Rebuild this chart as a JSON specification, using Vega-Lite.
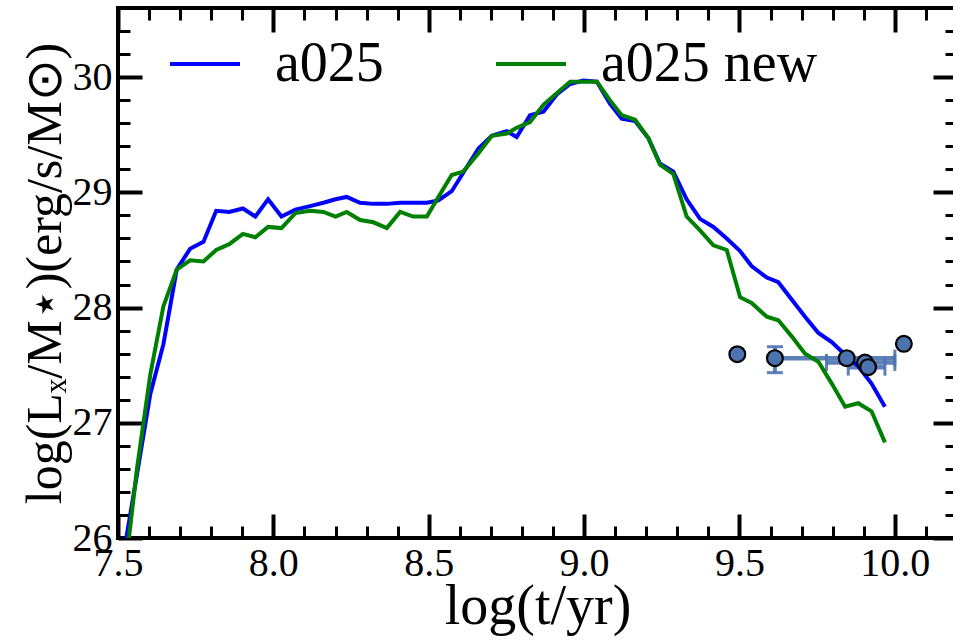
{
  "$schema": "https://vega.github.io/schema/vega-lite/v6.json",
  "width": 839,
  "height": 530,
  "autosize": {"type": "none"},
  "padding": {"left": 118, "top": 8, "right": 0, "bottom": 102},
  "background": "white",
  "config": {
    "view": {"stroke": "black", "strokeWidth": 4},
    "axis": {"domain": false, "grid": false, "labelFont": "Liberation Serif", "titleFont": "Liberation Serif", "labelColor": "black", "titleColor": "black", "tickColor": "black", "labelFlush": false, "labelOverlap": false, "titleFontWeight": "normal"}
  },
  "datasets": {
    "lines": [
      {"model": "a025", "t": 7.518, "L": 25.86}, {"model": "a025", "t": 7.561, "L": 26.55}, {"model": "a025", "t": 7.604, "L": 27.25}, {"model": "a025", "t": 7.646, "L": 27.68}, {"model": "a025", "t": 7.689, "L": 28.33}, {"model": "a025", "t": 7.732, "L": 28.51}, {"model": "a025", "t": 7.775, "L": 28.57}, {"model": "a025", "t": 7.816, "L": 28.84}, {"model": "a025", "t": 7.858, "L": 28.83}, {"model": "a025", "t": 7.902, "L": 28.86}, {"model": "a025", "t": 7.942, "L": 28.79}, {"model": "a025", "t": 7.983, "L": 28.94}, {"model": "a025", "t": 8.026, "L": 28.79}, {"model": "a025", "t": 8.071, "L": 28.85}, {"model": "a025", "t": 8.118, "L": 28.88}, {"model": "a025", "t": 8.161, "L": 28.91}, {"model": "a025", "t": 8.2, "L": 28.94}, {"model": "a025", "t": 8.236, "L": 28.96}, {"model": "a025", "t": 8.279, "L": 28.91}, {"model": "a025", "t": 8.322, "L": 28.9}, {"model": "a025", "t": 8.365, "L": 28.9}, {"model": "a025", "t": 8.408, "L": 28.91}, {"model": "a025", "t": 8.45, "L": 28.91}, {"model": "a025", "t": 8.494, "L": 28.91}, {"model": "a025", "t": 8.531, "L": 28.93}, {"model": "a025", "t": 8.574, "L": 29.01}, {"model": "a025", "t": 8.611, "L": 29.17}, {"model": "a025", "t": 8.66, "L": 29.38}, {"model": "a025", "t": 8.703, "L": 29.49}, {"model": "a025", "t": 8.751, "L": 29.53}, {"model": "a025", "t": 8.783, "L": 29.48}, {"model": "a025", "t": 8.826, "L": 29.67}, {"model": "a025", "t": 8.869, "L": 29.7}, {"model": "a025", "t": 8.912, "L": 29.85}, {"model": "a025", "t": 8.955, "L": 29.94}, {"model": "a025", "t": 8.997, "L": 29.97}, {"model": "a025", "t": 9.041, "L": 29.96}, {"model": "a025", "t": 9.083, "L": 29.77}, {"model": "a025", "t": 9.121, "L": 29.64}, {"model": "a025", "t": 9.164, "L": 29.62}, {"model": "a025", "t": 9.207, "L": 29.47}, {"model": "a025", "t": 9.244, "L": 29.25}, {"model": "a025", "t": 9.287, "L": 29.18}, {"model": "a025", "t": 9.33, "L": 28.94}, {"model": "a025", "t": 9.373, "L": 28.77}, {"model": "a025", "t": 9.416, "L": 28.7}, {"model": "a025", "t": 9.459, "L": 28.6}, {"model": "a025", "t": 9.502, "L": 28.49}, {"model": "a025", "t": 9.539, "L": 28.36}, {"model": "a025", "t": 9.588, "L": 28.26}, {"model": "a025", "t": 9.625, "L": 28.22}, {"model": "a025", "t": 9.668, "L": 28.07}, {"model": "a025", "t": 9.711, "L": 27.92}, {"model": "a025", "t": 9.754, "L": 27.78}, {"model": "a025", "t": 9.797, "L": 27.7}, {"model": "a025", "t": 9.84, "L": 27.59}, {"model": "a025", "t": 9.882, "L": 27.49}, {"model": "a025", "t": 9.925, "L": 27.34}, {"model": "a025", "t": 9.968, "L": 27.14},
      {"model": "a025 new", "t": 7.518, "L": 25.6}, {"model": "a025 new", "t": 7.561, "L": 26.6}, {"model": "a025 new", "t": 7.604, "L": 27.42}, {"model": "a025 new", "t": 7.646, "L": 28.01}, {"model": "a025 new", "t": 7.689, "L": 28.33}, {"model": "a025 new", "t": 7.732, "L": 28.41}, {"model": "a025 new", "t": 7.775, "L": 28.4}, {"model": "a025 new", "t": 7.816, "L": 28.5}, {"model": "a025 new", "t": 7.858, "L": 28.55}, {"model": "a025 new", "t": 7.902, "L": 28.64}, {"model": "a025 new", "t": 7.942, "L": 28.61}, {"model": "a025 new", "t": 7.983, "L": 28.7}, {"model": "a025 new", "t": 8.026, "L": 28.69}, {"model": "a025 new", "t": 8.071, "L": 28.82}, {"model": "a025 new", "t": 8.118, "L": 28.84}, {"model": "a025 new", "t": 8.161, "L": 28.83}, {"model": "a025 new", "t": 8.2, "L": 28.79}, {"model": "a025 new", "t": 8.236, "L": 28.83}, {"model": "a025 new", "t": 8.279, "L": 28.76}, {"model": "a025 new", "t": 8.322, "L": 28.74}, {"model": "a025 new", "t": 8.365, "L": 28.69}, {"model": "a025 new", "t": 8.408, "L": 28.83}, {"model": "a025 new", "t": 8.45, "L": 28.79}, {"model": "a025 new", "t": 8.494, "L": 28.79}, {"model": "a025 new", "t": 8.531, "L": 28.96}, {"model": "a025 new", "t": 8.574, "L": 29.15}, {"model": "a025 new", "t": 8.611, "L": 29.18}, {"model": "a025 new", "t": 8.66, "L": 29.34}, {"model": "a025 new", "t": 8.703, "L": 29.49}, {"model": "a025 new", "t": 8.751, "L": 29.51}, {"model": "a025 new", "t": 8.783, "L": 29.56}, {"model": "a025 new", "t": 8.826, "L": 29.61}, {"model": "a025 new", "t": 8.869, "L": 29.76}, {"model": "a025 new", "t": 8.912, "L": 29.86}, {"model": "a025 new", "t": 8.955, "L": 29.96}, {"model": "a025 new", "t": 8.997, "L": 29.96}, {"model": "a025 new", "t": 9.041, "L": 29.96}, {"model": "a025 new", "t": 9.083, "L": 29.8}, {"model": "a025 new", "t": 9.121, "L": 29.67}, {"model": "a025 new", "t": 9.164, "L": 29.63}, {"model": "a025 new", "t": 9.207, "L": 29.47}, {"model": "a025 new", "t": 9.244, "L": 29.24}, {"model": "a025 new", "t": 9.287, "L": 29.16}, {"model": "a025 new", "t": 9.33, "L": 28.79}, {"model": "a025 new", "t": 9.373, "L": 28.67}, {"model": "a025 new", "t": 9.416, "L": 28.54}, {"model": "a025 new", "t": 9.459, "L": 28.5}, {"model": "a025 new", "t": 9.502, "L": 28.09}, {"model": "a025 new", "t": 9.539, "L": 28.04}, {"model": "a025 new", "t": 9.588, "L": 27.92}, {"model": "a025 new", "t": 9.625, "L": 27.89}, {"model": "a025 new", "t": 9.668, "L": 27.75}, {"model": "a025 new", "t": 9.711, "L": 27.6}, {"model": "a025 new", "t": 9.754, "L": 27.53}, {"model": "a025 new", "t": 9.797, "L": 27.34}, {"model": "a025 new", "t": 9.84, "L": 27.14}, {"model": "a025 new", "t": 9.882, "L": 27.17}, {"model": "a025 new", "t": 9.925, "L": 27.1}, {"model": "a025 new", "t": 9.968, "L": 26.83}
    ],
    "pts": [
      {"x": 9.493, "y": 27.595}, {"x": 9.614, "y": 27.561}, {"x": 9.845, "y": 27.561}, {"x": 9.904, "y": 27.523}, {"x": 9.914, "y": 27.483}, {"x": 10.029, "y": 27.685}
    ],
    "xerr": [
      {"y": 27.561, "x1": 9.614, "x2": 10.0}, {"y": 27.523, "x1": 9.78, "x2": 10.0}, {"y": 27.483, "x1": 9.85, "x2": 9.968}
    ],
    "yerr": [
      {"x": 9.614, "y1": 27.435, "y2": 27.66}
    ],
    "xcaps": [
      {"x": 10.0, "y": 27.561}, {"x": 9.78, "y": 27.523}, {"x": 10.0, "y": 27.523}, {"x": 9.85, "y": 27.483}, {"x": 9.968, "y": 27.483}
    ],
    "ycaps": [
      {"x": 9.614, "y": 27.435}, {"x": 9.614, "y": 27.66}
    ]
  },
  "layer": [
    {
      "data": {"name": "xerr"},
      "mark": {"type": "rule", "strokeWidth": 4.5, "color": "#4c72b0", "opacity": 0.9},
      "encoding": {
        "x": {"field": "x1", "type": "quantitative", "scale": {"domain": [7.5, 10.2], "nice": false, "zero": false},
          "axis": {"orient": "top", "values": [7.5, 8.0, 8.5, 9.0, 9.5, 10.0], "labels": false, "tickSize": -24, "tickWidth": 4, "title": null}},
        "x2": {"field": "x2"},
        "y": {"field": "y", "type": "quantitative", "scale": {"domain": [26, 30.6], "nice": false, "zero": false},
          "axis": {"orient": "right", "values": [26, 27, 28, 29, 30], "labels": false, "tickSize": -24, "tickWidth": 4, "title": null}}
      }
    },
    {
      "data": {"name": "yerr"},
      "mark": {"type": "rule", "strokeWidth": 4, "color": "#4c72b0", "opacity": 0.9},
      "encoding": {
        "x": {"field": "x", "type": "quantitative", "scale": {"domain": [7.5, 10.2], "nice": false, "zero": false},
          "axis": {"orient": "top", "values": [7.6, 7.7, 7.8, 7.9, 8.1, 8.2, 8.3, 8.4, 8.6, 8.7, 8.8, 8.9, 9.1, 9.2, 9.3, 9.4, 9.6, 9.7, 9.8, 9.9, 10.1], "labels": false, "tickSize": -12, "tickWidth": 3, "title": null}},
        "y": {"field": "y1", "type": "quantitative", "scale": {"domain": [26, 30.6], "nice": false, "zero": false},
          "axis": {"orient": "right", "values": [26.2, 26.4, 26.6, 26.8, 27.2, 27.4, 27.6, 27.8, 28.2, 28.4, 28.6, 28.8, 29.2, 29.4, 29.6, 29.8, 30.2, 30.4], "labels": false, "tickSize": -12, "tickWidth": 3, "title": null}},
        "y2": {"field": "y2"}
      }
    },
    {
      "data": {"name": "xcaps"},
      "mark": {"type": "tick", "orient": "vertical", "size": 17, "thickness": 3, "color": "#4c72b0", "opacity": 0.9},
      "encoding": {
        "x": {"field": "x", "type": "quantitative", "scale": {"domain": [7.5, 10.2], "nice": false, "zero": false},
          "axis": {"orient": "bottom", "values": [7.6, 7.7, 7.8, 7.9, 8.1, 8.2, 8.3, 8.4, 8.6, 8.7, 8.8, 8.9, 9.1, 9.2, 9.3, 9.4, 9.6, 9.7, 9.8, 9.9, 10.1], "labels": false, "tickSize": -12, "tickWidth": 3, "title": null}},
        "y": {"field": "y", "type": "quantitative", "scale": {"domain": [26, 30.6], "nice": false, "zero": false},
          "axis": {"orient": "left", "values": [26.2, 26.4, 26.6, 26.8, 27.2, 27.4, 27.6, 27.8, 28.2, 28.4, 28.6, 28.8, 29.2, 29.4, 29.6, 29.8, 30.2, 30.4], "labels": false, "tickSize": -12, "tickWidth": 3, "title": null}}
      }
    },
    {
      "data": {"name": "ycaps"},
      "mark": {"type": "tick", "orient": "horizontal", "size": 16, "thickness": 3, "color": "#4c72b0", "opacity": 0.9},
      "encoding": {
        "x": {"field": "x", "type": "quantitative", "scale": {"domain": [7.5, 10.2], "nice": false, "zero": false}, "axis": null},
        "y": {"field": "y", "type": "quantitative", "scale": {"domain": [26, 30.6], "nice": false, "zero": false}, "axis": null}
      }
    },
    {
      "data": {"name": "lines"},
      "mark": {"type": "line", "strokeWidth": 4, "clip": true},
      "encoding": {
        "x": {"field": "t", "type": "quantitative", "scale": {"domain": [7.5, 10.2], "nice": false, "zero": false},
          "axis": {"orient": "bottom", "values": [7.5, 8.0, 8.5, 9.0, 9.5, 10.0], "format": ".1f", "tickSize": -24, "tickWidth": 4, "labelFontSize": 40, "labelPadding": 29, "title": "log(t/yr)", "titleFontSize": 56, "titlePadding": -4}},
        "y": {"field": "L", "type": "quantitative", "scale": {"domain": [26, 30.6], "nice": false, "zero": false},
          "axis": {"orient": "left", "values": [26, 27, 28, 29, 30], "format": "d", "tickSize": -24, "tickWidth": 4, "labelFontSize": 40, "labelPadding": 30, "title": "log(Lₓ/M⋆)(erg/s/M⊙)", "titleFontSize": 50, "titlePadding": 2}},
        "color": {"field": "model", "type": "nominal",
          "scale": {"domain": ["a025", "a025 new"], "range": ["#0000ff", "#008000"]},
          "legend": {"orient": "none", "legendX": 50, "legendY": 19, "direction": "horizontal", "title": null, "symbolType": "stroke", "symbolSize": 4900, "symbolStrokeWidth": 4, "labelFont": "Liberation Serif", "labelFontSize": 56, "labelColor": "black", "labelOffset": 33, "labelLimit": 500, "columnPadding": 104, "padding": 0}}
      }
    },
    {
      "data": {"name": "pts"},
      "mark": {"type": "point", "shape": "circle", "filled": true, "fill": "#4c72b0", "stroke": "black", "strokeWidth": 2.2, "size": 250, "opacity": 1},
      "encoding": {
        "x": {"field": "x", "type": "quantitative", "scale": {"domain": [7.5, 10.2], "nice": false, "zero": false}, "axis": null},
        "y": {"field": "y", "type": "quantitative", "scale": {"domain": [26, 30.6], "nice": false, "zero": false}, "axis": null}
      }
    }
  ],
  "resolve": {"axis": {"x": "independent", "y": "independent"}}
}
